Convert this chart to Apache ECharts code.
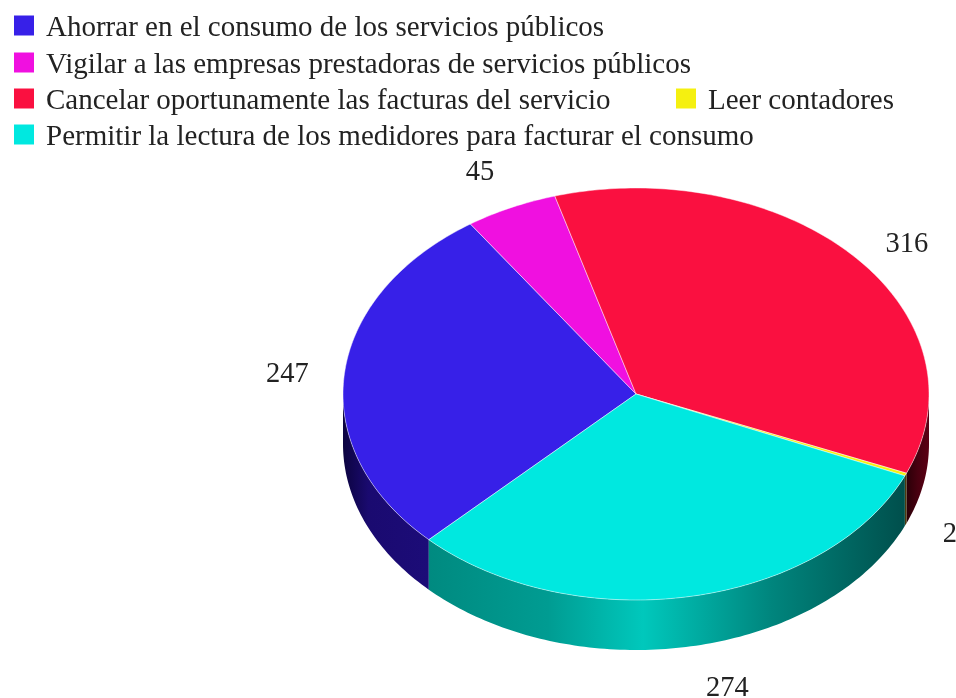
<!DOCTYPE html>
<html>
<head>
<meta charset="utf-8">
<title>Pie</title>
<style>
	html, body { margin: 0; padding: 0; background: #fff; }
	#pie { width: 956px; height: 698px; }
</style>
<script src="https://cdn.jsdelivr.net/npm/echarts@6/dist/echarts.min.js"></script>
</head>
<body>
<div id="pie"></div>
<script>
// datos
var categorias = [
	'Ahorrar en el consumo de los servicios públicos',
	'Vigilar a las empresas prestadoras de servicios públicos',
	'Cancelar oportunamente las facturas del servicio',
	'Leer contadores',
	'Permitir la lectura de los medidores para facturar el consumo'
];
var valores = [247, 45, 316, 2, 274];

// colores
var colores = ['#3720e8', '#f010e0', '#fa1040', '#f5f010', '#00e8e0'];
var paredes = [
	[[0, '#0c0440'], [0.3, '#1a0a70'], [1, '#1c0c78']],
	[[0, '#700a68'], [1, '#700a68']],
	[[0, '#2a0008'], [0.5, '#480010'], [1, '#5c0014']],
	[[0, '#4a3a10'], [1, '#4a3a10']],
	[[0, '#008a80'], [0.25, '#009c92'], [0.45, '#00c8bc'], [0.72, '#00857d'], [1, '#004f4c']]
];

// posicion de la torta y leyenda
var cx = 636, cy = 394, rx = 293, ry = 206, alto = 50;
var inicio = 225;
var filasLeyenda = [[14, 14], [14, 51], [14, 87], [676, 87], [14, 123]];
var radioEtiqueta = [[350, 228], [366, 247], [363, 228], [341, 354], [488, 298]];
var fuente = '"Liberation Serif", serif';

var total = 0;
for (var i = 0; i < valores.length; i++) {
	total += valores[i];
}

function punto(ang, dy) {
	var r = ang * Math.PI / 180;
	return [cx + rx * Math.cos(r), cy - ry * Math.sin(r) + dy];
}

// pared de la porcion dentro de un tramo de la mitad de abajo
function pared(idx, a, b, lo, hi) {
	var p1 = Math.min(a, hi), p2 = Math.max(b, lo);
	if (p1 <= p2) {
		return null;
	}
	var pasos = Math.max(2, Math.ceil(p1 - p2));
	var arco = [];
	for (var s = 0; s <= pasos; s++) {
		arco.push(punto(p1 + (p2 - p1) * s / pasos, 0));
	}
	for (s = pasos; s >= 0; s--) {
		arco.push(punto(p1 + (p2 - p1) * s / pasos, alto));
	}
	var x1 = punto(p1, 0)[0], x2 = punto(p2, 0)[0];
	var stops = paredes[idx].map(function (c) {
		return { offset: c[0], color: c[1] };
	});
	return {
		type: 'polygon',
		shape: { points: arco },
		style: {
			fill: new echarts.graphic.LinearGradient(Math.min(x1, x2), 0, Math.max(x1, x2), 0, stops, true)
		}
	};
}

// dibuja una porcion: pared, tapa y etiqueta
function dibujar(idx) {
	return function () {
		var acum = 0;
		for (var k = 0; k < idx; k++) {
			acum += valores[k];
		}
		var a = inicio - acum / total * 360;
		var b = a - valores[idx] / total * 360;
		var hijos = [];

		var p = pared(idx, a, b, 180, 360);
		if (p) { hijos.push(p); }
		p = pared(idx, a, b, -180, 0);
		if (p) { hijos.push(p); }

		// tapa
		var tapa = [[cx, cy]];
		var m = Math.max(2, Math.ceil(a - b));
		for (var t = 0; t <= m; t++) {
			tapa.push(punto(a + (b - a) * t / m, 0));
		}
		hijos.push({
			type: 'polygon',
			shape: { points: tapa },
			style: { fill: colores[idx], stroke: 'rgba(255,255,255,0.45)', lineWidth: 1 }
		});

		// etiqueta
		var mitad = (a + b) / 2 * Math.PI / 180;
		hijos.push({
			type: 'text',
			style: {
				text: String(valores[idx]),
				x: cx + radioEtiqueta[idx][0] * Math.cos(mitad),
				y: cy - radioEtiqueta[idx][1] * Math.sin(mitad) + 2,
				align: 'center',
				verticalAlign: 'middle',
				fill: '#222',
				font: '28.5px ' + fuente
			}
		});
		return { type: 'group', children: hijos };
	};
}

var leyendas = [];
var series = [];
for (var j = 0; j < categorias.length; j++) {
	leyendas.push({
		left: filasLeyenda[j][0],
		top: filasLeyenda[j][1],
		padding: 0,
		itemWidth: 20,
		itemHeight: 20,
		icon: 'rect',
		selectedMode: false,
		data: [categorias[j]],
		formatter: '{t|{name}}',
		textStyle: {
			color: '#222',
			fontFamily: fuente,
			fontSize: 29,
			padding: [0, 0, 0, 7],
			rich: {
				t: {
					color: '#222',
					fontFamily: fuente,
					fontSize: 29,
					padding: [6, 0, 0, 0]
				}
			}
		}
	});
	series.push({
		name: categorias[j],
		type: 'custom',
		coordinateSystem: 'none',
		silent: true,
		itemStyle: { color: colores[j] },
		data: [valores[j]],
		renderItem: dibujar(j)
	});
}

var myChart = echarts.init(document.getElementById('pie'));
myChart.setOption({
	animation: false,
	backgroundColor: '#fff',
	legend: leyendas,
	series: series
});
</script>
</body>
</html>
